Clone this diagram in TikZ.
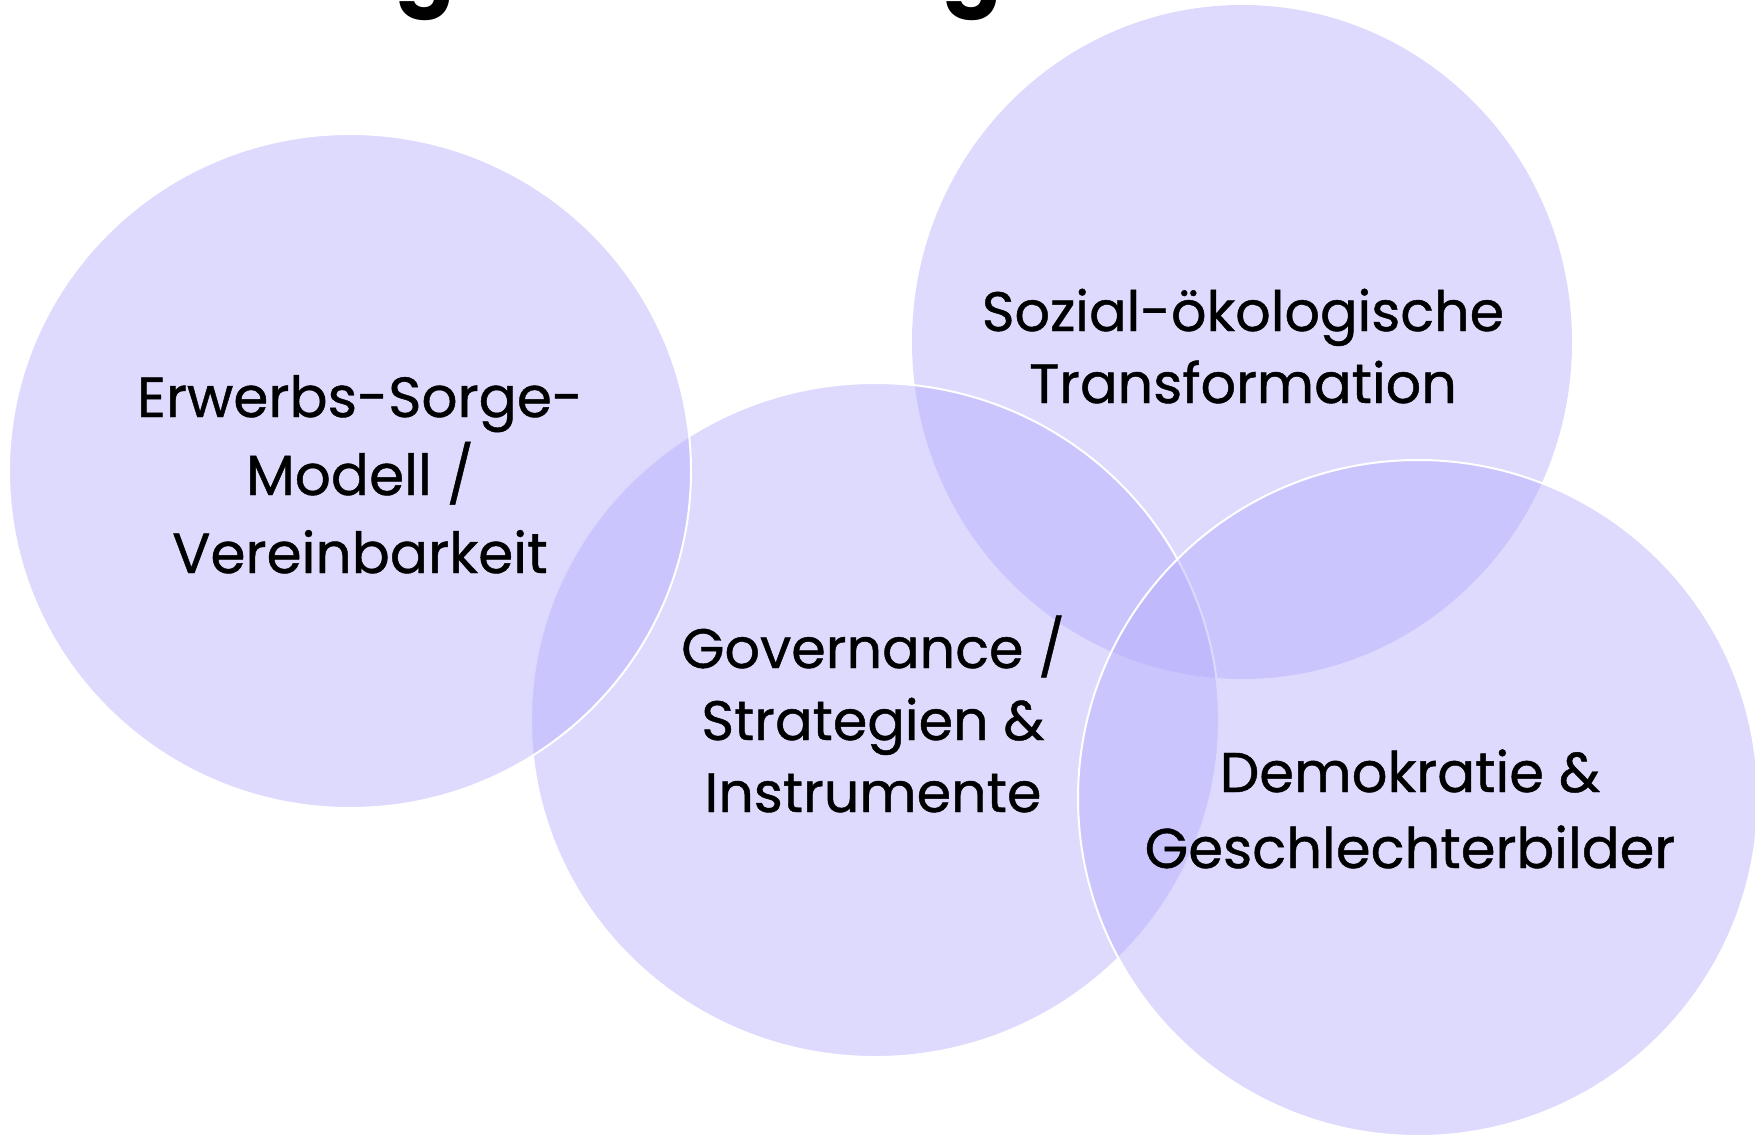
\documentclass[tikz,border=0pt]{standalone}
\usepackage{fontspec}
\setmainfont{Poppins}
\newfontfamily\lblfont{Poppins}[FakeBold=0.8]
\usetikzlibrary{shapes.geometric}
\definecolor{lav}{RGB}{180,172,252}
\begin{document}
\begin{tikzpicture}[x=1bp,y=-1bp,
  plain/.style={ellipse, inner sep=0pt, fill=lav, fill opacity=0.45},
  circ/.style={plain, draw=white, line width=2bp},
  lbl/.style={align=center, anchor=base, text=black, inner sep=0pt},
  ttl/.style={anchor=base, inner sep=0pt, font=\bfseries\fontsize{88bp}{88bp}\selectfont}]
\useasboundingbox (0,0) rectangle (1755,1135);
\node[ttl] (g1) at (425,-4) {g};
\node[ttl] (g2) at (972,-4) {g};
\node[plain, minimum width=660bp, minimum height=674bp] (cC) at (1242,342) {};
\node[circ, minimum width=688bp, minimum height=674bp] (cB) at (875,720) {};
\node[circ, minimum width=680bp, minimum height=676bp] (cD) at (1418,798) {};
\node[circ, minimum width=682bp, minimum height=674bp] (cA) at (350,471) {};
\node[lbl, font=\lblfont\fontsize{56.5bp}{78bp}\selectfont] (tA) at (360,573) {Erwerbs-Sorge-\\Modell /\\Vereinbarkeit};
\node[lbl, font=\lblfont\fontsize{55.6bp}{72bp}\selectfont] (tB) at (873,812) {Governance /\\Strategien \&\\Instrumente};
\node[lbl, font=\lblfont\fontsize{55.6bp}{72bp}\selectfont] (tC) at (1243,403) {Sozial-ökologische\\Transformation};
\node[lbl, font=\lblfont\fontsize{56bp}{76bp}\selectfont] (tD) at (1410,868) {Demokratie \&\\Geschlechterbilder};
\end{tikzpicture}
\end{document}
